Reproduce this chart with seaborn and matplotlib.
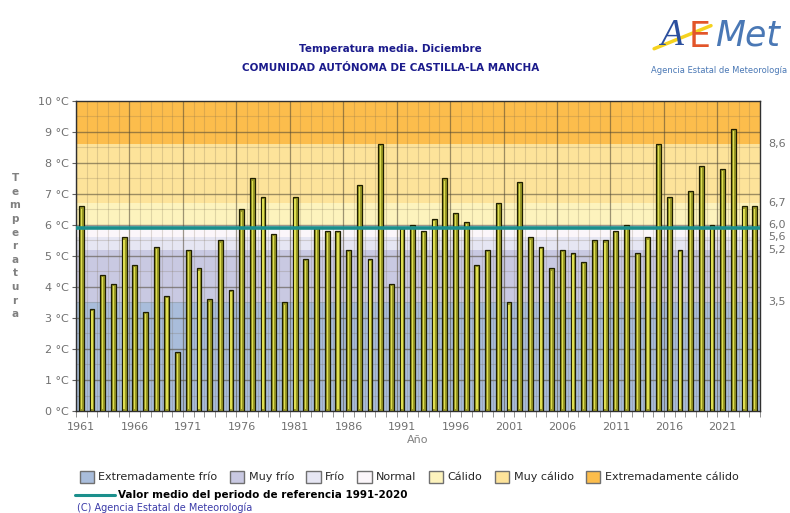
import numpy as np
import pandas as pd
import matplotlib
matplotlib.use("Agg")
import matplotlib.pyplot as plt
import matplotlib.patches as mpatches
import matplotlib.lines as mlines
import seaborn as sns

# Data.
years = list(range(1961, 2025))
temps = [6.6, 3.3, 4.4, 4.1, 5.6, 4.7, 3.2, 5.3, 3.7, 1.9,
         5.2, 4.6, 3.6, 5.5, 3.9, 6.5, 7.5, 6.9, 5.7, 3.5,
         6.9, 4.9, 5.9, 5.8, 5.8, 5.2, 7.3, 4.9, 8.6, 4.1,
         5.9, 6.0, 5.8, 6.2, 7.5, 6.4, 6.1, 4.7, 5.2, 6.7,
         3.5, 7.4, 5.6, 5.3, 4.6, 5.2, 5.1, 4.8, 5.5, 5.5,
         5.8, 6.0, 5.1, 5.6, 8.6, 6.9, 5.2, 7.1, 7.9, 6.0,
         7.8, 9.1, 6.6, 6.6]
ref_mean = 5.9

# Category thresholds (right axis labels) and band colours.
thresholds = [3.5, 5.2, 5.6, 6.0, 6.7, 8.6]
band_names = ["Extremadamente frío", "Muy frío", "Frío", "Normal",
              "Cálido", "Muy cálido", "Extremadamente cálido"]
band_colors = ["#a9bddb", "#c9c9e2", "#e6e6f3", "#fbf6fa",
               "#fdf3bd", "#fde39a", "#fcbd4c"]
threshold_labels = ["3,5", "5,2", "5,6", "6,0", "6,7", "8,6"]

df = pd.DataFrame({"year": years, "temp": temps})

sns.set_style("white")
plt.rcParams["font.family"] = ["DejaVu Sans"]

fig = plt.figure(figsize=(7.9, 5.13), dpi=100)
ax = fig.add_axes([0.0962, 0.1988, 0.866, 0.6045])

# Background bands.
edges = [0] + thresholds + [10]
for lo, hi, col in zip(edges[:-1], edges[1:], band_colors):
    ax.axhspan(lo, hi, color=col, zorder=0, lw=0)

# Grid lines.
minor_col = (0.45, 0.40, 0.30, 0.22)
major_col = (0.30, 0.27, 0.20, 0.55)
for v in np.arange(0.5, 10, 1.0):
    ax.axhline(v, color=minor_col, lw=0.8, zorder=1)
for v in range(1, 10):
    ax.axhline(v, color=major_col, lw=1.0, zorder=1)
for i in range(len(years) + 1):
    xb = i - 0.5
    if i % 5 == 0:
        ax.axvline(xb, color=major_col, lw=0.9, zorder=1)
    else:
        ax.axvline(xb, color=minor_col, lw=0.8, zorder=1)

# Bars.
sns.barplot(data=df, x="year", y="temp", order=years, color="#9a9a26",
            width=0.45, edgecolor="#1e1e00", linewidth=0.9,
            saturation=1, ax=ax, zorder=3)
sns.barplot(data=df, x="year", y="temp", order=years, color="#dede52",
            width=0.12, linewidth=0, saturation=1, ax=ax, zorder=4)
for p in ax.containers[1]:
    p.set_y(0.05)
    p.set_height(p.get_height() - 0.12)

# Reference mean line.
ax.axhline(ref_mean, color="#1b8f8c", lw=2.6, zorder=5)

ax.set_xlim(-0.5, len(years) - 0.5)
ax.set_ylim(0, 10)
ax.set_yticks(range(0, 11))
ax.set_yticklabels([f"{v} °C" for v in range(0, 11)], color="#707070", fontsize=8)
ax.set_xticks(range(0, len(years), 5))
ax.set_xticklabels([str(y) for y in years[::5]], color="#707070", fontsize=8)
ax.tick_params(axis="x", length=0, pad=8)
ax.tick_params(axis="y", length=3, color="#606060", pad=2, left=True)
ax.set_xticks([i - 0.5 for i in range(len(years) + 1)], minor=True)
ax.tick_params(axis="x", which="minor", length=4, color="#808080", bottom=True)
ax.set_xlabel("Año", color="#808080", fontsize=8, labelpad=2)
ax.set_ylabel("")
for s in ax.spines.values():
    s.set_color("#303030")
    s.set_linewidth(1.0)

# Right side threshold labels.
for t, lab in zip(thresholds, threshold_labels):
    ax.text(1.012, t, lab, transform=ax.get_yaxis_transform(), va="center",
            ha="left", fontsize=8, color="#707070")

# Vertical stacked y label.
fig.text(0.019, 0.52, "\n".join("Temperatura"), ha="center", va="center",
         fontsize=7.5, fontweight="bold", color="#808080", linespacing=1.45)

# Titles.
fig.text(0.494, 0.905, "Temperatura media. Diciembre", ha="center", va="center",
         fontsize=7.5, fontweight="bold", color="#1b1b8c")
fig.text(0.494, 0.868, "COMUNIDAD AUTÓNOMA DE CASTILLA-LA MANCHA", ha="center",
         va="center", fontsize=7.5, fontweight="bold", color="#1b1b8c")

# Logo approximation.
fig.text(0.835, 0.93, "A", fontsize=27, color="#2b4f9e", style="italic",
         ha="left", va="center", family=["Liberation Serif", "DejaVu Serif"])
fig.text(0.872, 0.928, "E", fontsize=25, color="#e2552a", ha="left",
         va="center")
fig.text(0.905, 0.93, "Met", fontsize=25, color="#4a78b5", style="italic",
         ha="left", va="center")
fig.add_artist(mlines.Line2D([0.828, 0.9], [0.905, 0.95], color="#f5d21f",
                             lw=2.5, transform=fig.transFigure))
fig.text(0.91, 0.862, "Agencia Estatal de Meteorología", fontsize=6,
         color="#4a78b5", ha="center", va="center")

# Legend.
handles = [mpatches.Patch(facecolor=c, edgecolor="#707070", label=n)
           for c, n in zip(band_colors, band_names)]
fig.legend(handles=handles, loc="center left", bbox_to_anchor=(0.088, 0.071),
           ncol=7, frameon=False, fontsize=8, handlelength=1.3,
           handleheight=1.3, columnspacing=1.1, handletextpad=0.4)
fig.add_artist(mlines.Line2D([0.095, 0.145], [0.036, 0.036], color="#1b8f8c",
                             lw=2.2, transform=fig.transFigure))
fig.text(0.15, 0.036, "Valor medio del periodo de referencia 1991-2020",
         fontsize=7.5, fontweight="bold", ha="left", va="center", color="black")
fig.text(0.097, 0.01, "(C) Agencia Estatal de Meteorología", fontsize=7,
         color="#3a3aa8", ha="left", va="center")

fig.savefig("out.png", dpi=100)
